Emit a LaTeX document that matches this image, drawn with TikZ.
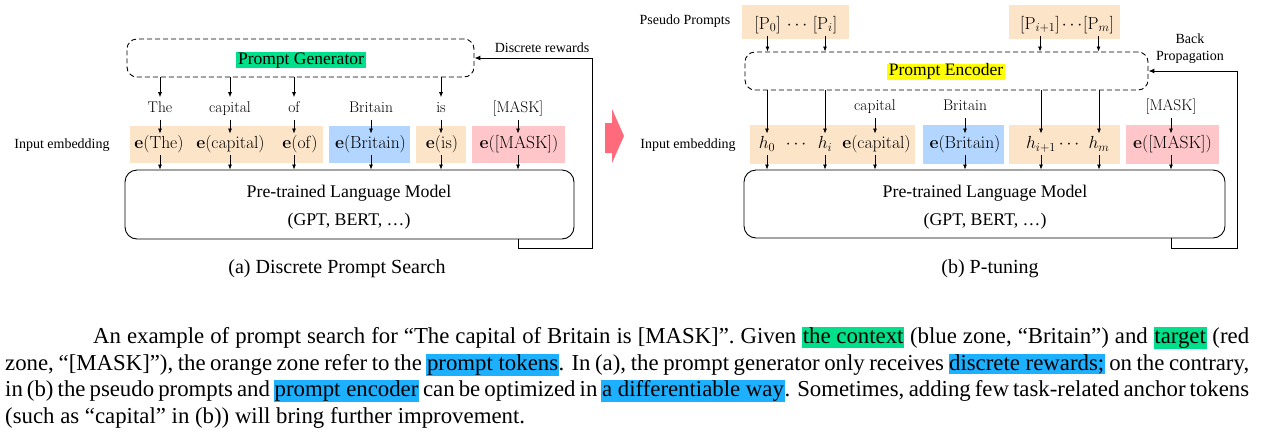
\RequirePackage{fix-cm}
\documentclass[tikz,border=0pt]{standalone}
\usepackage[no-math]{fontspec}
\setmainfont{Liberation Serif}
\usetikzlibrary{arrows.meta,calc}
\definecolor{peach}{RGB}{252,228,200}
\definecolor{ctxblue}{RGB}{178,214,255}
\definecolor{tgtpink}{RGB}{255,198,202}
\definecolor{hlgreen}{RGB}{0,224,138}
\definecolor{hlblue}{RGB}{28,176,255}
\definecolor{hlyellow}{RGB}{255,255,0}
\definecolor{bigred}{RGB}{255,107,122}
\newcommand{\cmfont}{\fontfamily{lmr}\selectfont}
\newcommand{\hlbox}[2]{{\setlength{\fboxsep}{0.6pt}\colorbox{#1}{\rule[-0.16em]{0pt}{0.86em}#2}}}
\begin{document}
\begin{tikzpicture}[x=1pt,y=-1pt,
  annot/.style={font=\fontsize{14}{16}\selectfont, inner sep=0pt},
  wordnode/.style={font=\cmfont\fontsize{15.5}{18}\selectfont, text height=10.9pt, text depth=3.1pt, inner xsep=1pt, inner ysep=4pt},
  embnode/.style={font=\fontsize{17.5}{20}\selectfont, text height=13.1pt, text depth=4.4pt, inner xsep=0pt, inner ysep=2pt},
  zonebox/.style={inner sep=0pt, anchor=north west, draw=none},
  arr/.style={draw, line width=0.75pt, -{Latex[length=5pt,width=4pt]}},
  fbarr/.style={draw, line width=1pt, -{Latex[length=6pt,width=5pt]}},
  dbox/.style={draw, dash pattern=on 5pt off 3pt, line width=0.9pt, rounded corners=10pt, inner sep=0pt},
  plmbox/.style={draw, line width=0.9pt, rounded corners=12pt, inner sep=0pt},
  hlnode/.style={font=\fontsize{17.5}{20}\selectfont, inner xsep=2pt, inner ysep=0pt, text height=12.2pt, text depth=3.8pt},
  captext/.style={font=\fontsize{22.8}{26.7}\selectfont, inner sep=0pt, anchor=base west},
  subcap/.style={font=\fontsize{20}{24}\selectfont, inner sep=0pt, anchor=base},
  plmtext/.style={font=\fontsize{17.8}{27.5}\selectfont, align=center, inner sep=0pt}
]
\useasboundingbox (0,0) rectangle (1263,440);

% ---------------- (a) ----------------
\node[dbox, minimum width=347pt, minimum height=38pt] (gen) at (300.5,58) {};
\node[hlnode, fill=hlgreen] (genT) at (301,60) {Prompt Generator};
\node[annot, anchor=base] (dr) at (542,52.8) {Discrete rewards};

\node[wordnode] (w1) at (160,108.4) {The};
\node[wordnode] (w2) at (230,108.4) {capital};
\node[wordnode] (w3) at (294,108.4) {of};
\node[wordnode] (w4) at (371,108.4) {Britain};
\node[wordnode] (w5) at (441,108.4) {is};
\node[wordnode] (w6) at (518,108.4) {[MASK]};

\node[zonebox, fill=peach, minimum width=193pt, minimum height=37pt] (za1) at (130,126) {};
\node[zonebox, fill=ctxblue, minimum width=81pt, minimum height=37pt] (zb1) at (329,126) {};
\node[zonebox, fill=peach, minimum width=50pt, minimum height=37pt] (za2) at (416,126) {};
\node[zonebox, fill=tgtpink, minimum width=93pt, minimum height=37pt] (zp1) at (472,126) {};

\node[embnode] (e1) at (159,144.5) {$\mathbf{e}(\mathrm{The})$};
\node[embnode] (e2) at (230.5,144.5) {$\mathbf{e}(\mathrm{capital})$};
\node[embnode] (e3) at (300,144.5) {$\mathbf{e}(\mathrm{of})$};
\node[embnode] (e4) at (370.5,144.5) {$\mathbf{e}(\mathrm{Britain})$};
\node[embnode] (e5) at (442,144.5) {$\mathbf{e}(\mathrm{is})$};
\node[embnode] (e6) at (519,144.5) {$\mathbf{e}([\mathrm{MASK}])$};

\node[annot, anchor=base] (iea) at (62,148.5) {Input embedding};

\node[plmbox, minimum width=449pt, minimum height=69pt] (plma) at (349.5,204.5) {};
\node[plmtext] (plmaT) at (349,207.1) {Pre-trained Language Model\\(GPT, BERT, …)};

\foreach \w in {w1,w2,w3,w5} \draw[arr] (gen.south -| \w) -- (\w.north);
\foreach \w/\e in {w1/e1,w2/e2,w3/e3,w4/e4,w5/e5,w6/e6} {
  \draw[arr] (\w.south) -- (\w.south |- \e.north);
  \draw[arr] (\e.south -| \w) -- (plma.north -| \w);
}
\draw[fbarr] (plma.south -| w6) -- ++(0,9) -| ($(gen.east)+(118,0)$) -- (gen.east);

\node[subcap] (capa) at (337,273) {(a) Discrete Prompt Search};

% ---------------- middle arrow ----------------
\fill[bigred] (605,123) -- (612,123) -- (612,109) -- (624,136) -- (612,163) -- (612,153) -- (605,153) -- cycle;

% ---------------- (b) ----------------
\node[annot, anchor=base] (pp) at (685,24.5) {Pseudo Prompts};
\node[zonebox, fill=peach, minimum width=107pt, minimum height=34pt] (zpa) at (742,5) {};
\node[zonebox, fill=peach, minimum width=111pt, minimum height=34pt] (zpb) at (1009,5) {};
\node[embnode] (p0) at (767.5,25) {$[\mathrm{P}_0]$};
\node[embnode] (pd1) at (797,25) {$\cdots$};
\node[embnode] (pi) at (825,25) {$[\mathrm{P}_i]$};
\node[embnode] (pi1) at (1040,25) {$[\mathrm{P}_{i+1}]$};
\node[embnode] (pd2) at (1072,25) {$\cdots$};
\node[embnode] (pm) at (1098.5,25) {$[\mathrm{P}_m]$};

\node[dbox, minimum width=403pt, minimum height=38pt] (enc) at (946.5,71) {};
\node[hlnode, fill=hlyellow] (encT) at (946,71.5) {Prompt Encoder};
\node[annot, align=center, font=\fontsize{14}{16.5}\selectfont] (bp) at (1190,48.7) {Back\\Propagation};

\foreach \p in {p0,pi,pi1,pm} \draw[arr] (\p.south) -- (enc.north -| \p);

\node[wordnode] (v1) at (875,106.6) {capital};
\node[wordnode] (v2) at (965,106.6) {Britain};
\node[wordnode] (v3) at (1171,106.6) {[MASK]};

\node[zonebox, fill=peach, minimum width=165pt, minimum height=39pt] (zra) at (750,125) {};
\node[zonebox, fill=ctxblue, minimum width=81pt, minimum height=39pt] (zrb) at (923,125) {};
\node[zonebox, fill=peach, minimum width=111pt, minimum height=39pt] (zrc) at (1009,125) {};
\node[zonebox, fill=tgtpink, minimum width=93pt, minimum height=39pt] (zrd) at (1126,125) {};

\node[embnode] (h0) at (767,144.5) {$h_0$};
\node[embnode] (hd1) at (796,144.5) {$\cdots$};
\node[embnode] (hi) at (825,144.5) {$h_i$};
\node[embnode] (ec) at (876.5,144.5) {$\mathbf{e}(\mathrm{capital})$};
\node[embnode] (eb) at (965,144.5) {$\mathbf{e}(\mathrm{Britain})$};
\node[embnode] (hi1) at (1041,144.5) {$h_{i+1}$};
\node[embnode] (hd2) at (1069,144.5) {$\cdots$};
\node[embnode] (hm) at (1099,144.5) {$h_m$};
\node[embnode] (em) at (1172.5,144.5) {$\mathbf{e}([\mathrm{MASK}])$};

\node[annot, anchor=base] (ieb) at (688,148.5) {Input embedding};

\node[plmbox, minimum width=481pt, minimum height=68pt] (plmb) at (984.5,204) {};
\node[plmtext] (plmbT) at (985,207.1) {Pre-trained Language Model\\(GPT, BERT, …)};

\foreach \h in {h0,hi,hi1,hm} {
  \draw[arr] (enc.south -| \h) -- (\h.north);
  \draw[arr] (\h.south) -- (plmb.north -| \h);
}
\foreach \w/\e in {v1/ec,v2/eb,v3/em} {
  \draw[arr] (\w.south) -- (\w.south |- \e.north);
  \draw[arr] (\e.south -| \w) -- (plmb.north -| \w);
}
\draw[fbarr] (plmb.south -| v3) -- ++(0,10) -| ($(enc.east)+(89,0)$) -- (enc.east);

\node[subcap] (capb) at (990,273) {(b) P-tuning};

% ---------------- caption ----------------
\node[captext] (c1) at (93,343.5) {\makebox[1156pt][s]{An example of prompt search for “The capital of Britain is [MASK]”. Given \hlbox{hlgreen}{the context} (blue zone, “Britain”) and \hlbox{hlgreen}{target} (red}};
\node[captext] (c2) at (5,370.2) {\makebox[1244pt][s]{zone, “[MASK]”), the orange zone refer to the \hlbox{hlblue}{prompt tokens}. In (a), the prompt generator only receives \hlbox{hlblue}{discrete rewards;} on the contrary,}};
\node[captext] (c3) at (5,396.9) {\makebox[1244pt][s]{in (b) the pseudo prompts and \hlbox{hlblue}{prompt encoder} can be optimized in \hlbox{hlblue}{a differentiable way}. Sometimes, adding few task-related anchor tokens}};
\node[captext] (c4) at (5,423.6) {(such as “capital” in (b)) will bring further improvement.};
\end{tikzpicture}
\end{document}
